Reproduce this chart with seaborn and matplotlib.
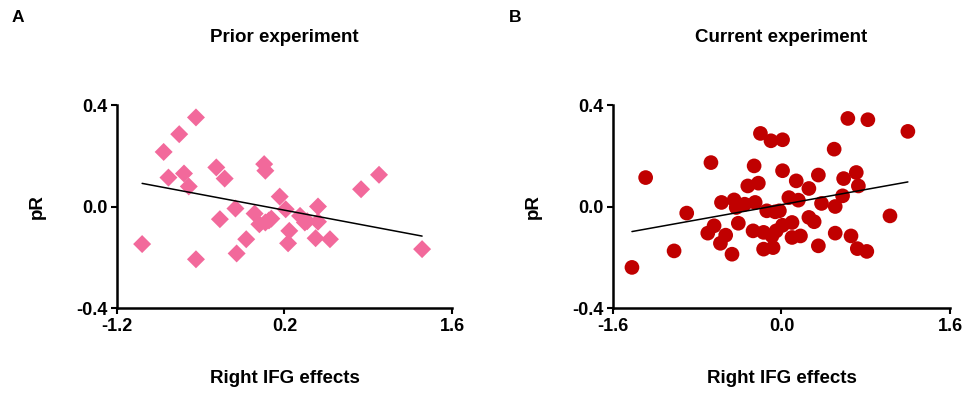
import pandas as pd
import seaborn as sns
import matplotlib.pyplot as plt

# Panel A: prior experiment
prior_x = [-0.99, -0.81, -0.77, -0.68, -0.64, -0.60, -0.54, -0.54, -0.37, -0.30,
           -0.34, -0.21, -0.20, -0.12, -0.05, -0.01, 0.03, 0.04, 0.04, 0.07,
           0.09, 0.16, 0.21, 0.24, 0.23, 0.33, 0.37, 0.39, 0.46, 0.48,
           0.48, 0.58, 0.84, 0.99, 1.35]
prior_y = [-0.148, 0.215, 0.114, 0.285, 0.130, 0.079, 0.351, -0.208, 0.154, 0.110,
           -0.050, -0.008, -0.185, -0.129, -0.028, -0.070, 0.167, 0.141, -0.063, -0.055,
           -0.048, 0.039, -0.011, -0.096, -0.145, -0.037, -0.063, -0.058, -0.125, 0.000,
           -0.060, -0.129, 0.068, 0.125, -0.168]

# Panel B: current experiment
current_x = [-1.42, -1.29, -1.02, -0.90, -0.67, -0.70, -0.64, -0.57, -0.58, -0.53,
             -0.47, -0.45, -0.43, -0.41, -0.35, -0.32, -0.26, -0.25, -0.22, -0.27,
             -0.20, -0.17, -0.17, -0.14, -0.10, -0.09, -0.08, -0.06, -0.02, -0.05,
             0.01, 0.01, 0.01, 0.07, 0.10, 0.10, 0.14, 0.16, 0.18, 0.26,
             0.26, 0.31, 0.35, 0.35, 0.38, 0.50, 0.51, 0.51, 0.58, 0.59,
             0.63, 0.66, 0.71, 0.73, 0.72, 0.81, 0.82, 1.03, 1.20]
current_y = [-0.240, 0.114, -0.175, -0.026, 0.173, -0.105, -0.076, 0.016, -0.145, -0.113,
             -0.188, 0.026, -0.004, -0.066, 0.009, 0.081, 0.160, 0.016, 0.092, -0.096,
             0.288, -0.102, -0.168, -0.017, 0.259, -0.116, -0.162, -0.021, -0.017, -0.096,
             0.263, 0.141, -0.074, 0.035, -0.063, -0.122, 0.101, 0.025, -0.116, 0.071,
             -0.043, -0.060, 0.124, -0.155, 0.012, 0.226, 0.000, -0.105, 0.042, 0.110,
             0.347, -0.116, 0.134, 0.081, -0.166, -0.177, 0.342, -0.037, 0.296]

prior = pd.DataFrame({"effect": prior_x, "pR": prior_y})
current = pd.DataFrame({"effect": current_x, "pR": current_y})

sns.set_style("ticks")
plt.rcParams["font.family"] = ["Liberation Sans", "DejaVu Sans"]
plt.rcParams["font.weight"] = "bold"
plt.rcParams["text.color"] = "black"
plt.rcParams["axes.labelcolor"] = "black"

W, H = 970, 395
fig = plt.figure(figsize=(W / 100, H / 100), dpi=100)

panels = [
    dict(df=prior, left=117, right=452, marker="D", size=84, color="#F2699B",
         xlim=(-1.2, 1.6), xticks=[-1.2, 0.2, 1.6], xlabels=["-1.2", "0.2", "1.6"],
         title="Prior experiment", letter="A", letter_x=12),
    dict(df=current, left=613, right=950, marker="o", size=112, color="#C00000",
         xlim=(-1.6, 1.6), xticks=[-1.6, 0.0, 1.6], xlabels=["-1.6", "0.0", "1.6"],
         title="Current experiment", letter="B", letter_x=509),
]

top_px, bottom_px = 105, 308
for p in panels:
    ax = fig.add_axes([p["left"] / W, 1 - bottom_px / H,
                       (p["right"] - p["left"]) / W, (bottom_px - top_px) / H])
    sns.regplot(data=p["df"], x="effect", y="pR", ax=ax, ci=None, marker=p["marker"],
                scatter_kws=dict(s=p["size"], color=p["color"], edgecolor="none", alpha=1),
                line_kws=dict(color="black", lw=1.1))
    ax.set_xlim(*p["xlim"])
    ax.set_ylim(-0.4, 0.4)
    ax.set_xticks(p["xticks"])
    ax.set_xticklabels(p["xlabels"])
    ax.set_yticks([-0.4, 0.0, 0.4])
    ax.set_yticklabels(["-0.4", "0.0", "0.4"])
    sns.despine(ax=ax)
    for s in ["left", "bottom"]:
        ax.spines[s].set_linewidth(1.8)
        ax.spines[s].set_color("black")
    ax.tick_params(length=4, width=1.5, labelsize=13, colors="black")
    ax.tick_params(axis="x", pad=3.5)
    ax.tick_params(axis="y", pad=2.5)
    for lab in ax.get_xticklabels() + ax.get_yticklabels():
        lab.set_fontweight("bold")
    ax.set_xlabel("Right IFG effects", fontsize=13.5, fontweight="bold")
    ax.xaxis.set_label_coords(0.5, -0.345)
    ax.xaxis.label.set_va("center")
    ax.set_ylabel("pR", fontsize=13.5, fontweight="bold")
    ax.yaxis.set_label_coords(-80 / (p["right"] - p["left"]), 0.5)
    ax.yaxis.label.set_va("center")
    fig.text((p["left"] + p["right"]) / 2 / W, 1 - 37 / H, p["title"],
             ha="center", va="center", fontsize=13.5, fontweight="bold")
    fig.text(p["letter_x"] / W, 1 - 17 / H, p["letter"],
             ha="left", va="center", fontsize=12.5, fontweight="bold")

fig.savefig("out.png", dpi=100)
